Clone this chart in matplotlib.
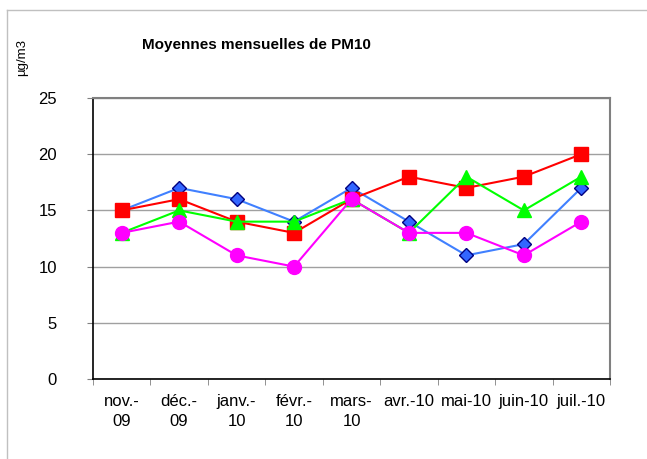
import matplotlib
matplotlib.use("Agg")
import matplotlib.pyplot as plt
from matplotlib.lines import Line2D
import numpy as np

plt.rcParams['font.family'] = ['Liberation Sans', 'DejaVu Sans']

# data
months = ["nov.-\n09", "déc.-\n09", "janv.-\n10", "févr.-\n10", "mars-\n10",
          "avr.-10", "mai-10", "juin-10", "juil.-10"]
blue_vals = [15, 17, 16, 14, 17, 14, 11, 12, 17]
red_vals = [15, 16, 14, 13, 16, 18, 17, 18, 20]
green_vals = [13, 15, 14, 14, 16, 13, 18, 15, 18]
pink_vals = [13, 14, 11, 10, 16, 13, 13, 11, 14]
y_ticks = [0, 5, 10, 15, 20, 25]

fig = plt.figure(figsize=(6.47, 4.59), dpi=100)
ax = fig.add_axes([93/647, 1-379/459, 517/647, 281/459])

x = np.arange(len(months))

ax.plot(x, blue_vals, '-D', color='#4080ff', lw=1.5, ms=7.5,
        mfc='#3366ff', mec='#000080', mew=1, zorder=3)
ax.plot(x, red_vals, '-s', color='#ff0000', lw=1.5, ms=9.5, zorder=4)
ax.plot(x, green_vals, '-^', color='#00ff00', lw=1.5, ms=10, zorder=5)
ax.plot(x, pink_vals, '-o', color='#ff00ff', lw=1.5, ms=10, zorder=6)

ax.set_xlim(-0.5, len(months)-0.5)
ax.set_ylim(0, 25)
ax.set_yticks(y_ticks)
ax.yaxis.grid(True, color='#a0a0a0', lw=1)
ax.set_axisbelow(True)

ax.set_xticks(x)
ax.set_xticklabels(months, fontsize=12, linespacing=1.4)
ax.set_xticks(np.arange(len(months)+1)-0.5, minor=True)
ax.tick_params(axis='x', which='major', length=0, pad=11)
ax.tick_params(axis='x', which='minor', length=4, color='#808080')
ax.tick_params(axis='y', length=4, color='#808080', pad=22, labelsize=12)

for side in ['top', 'right']:
    ax.spines[side].set_color('#808080')
    ax.spines[side].set_linewidth(1.5)
for side in ['left', 'bottom']:
    ax.spines[side].set_color('black')
    ax.spines[side].set_linewidth(1.2)

fig.text(256/647, 1-45/459, "Moyennes mensuelles de PM10", fontsize=11,
         fontweight='bold', ha='center', va='center')
fig.text(22/647, 1-57/459, "µg/m3", fontsize=9.5, rotation=90,
         ha='center', va='center')

# outer chart-area border (only top and left visible)
fig.add_artist(Line2D([7/647, 1], [1-10/459, 1-10/459], color='#c0c0c0', lw=1))
fig.add_artist(Line2D([7/647, 7/647], [0, 1-10/459], color='#c0c0c0', lw=1))

fig.savefig("out.png", dpi=100)
